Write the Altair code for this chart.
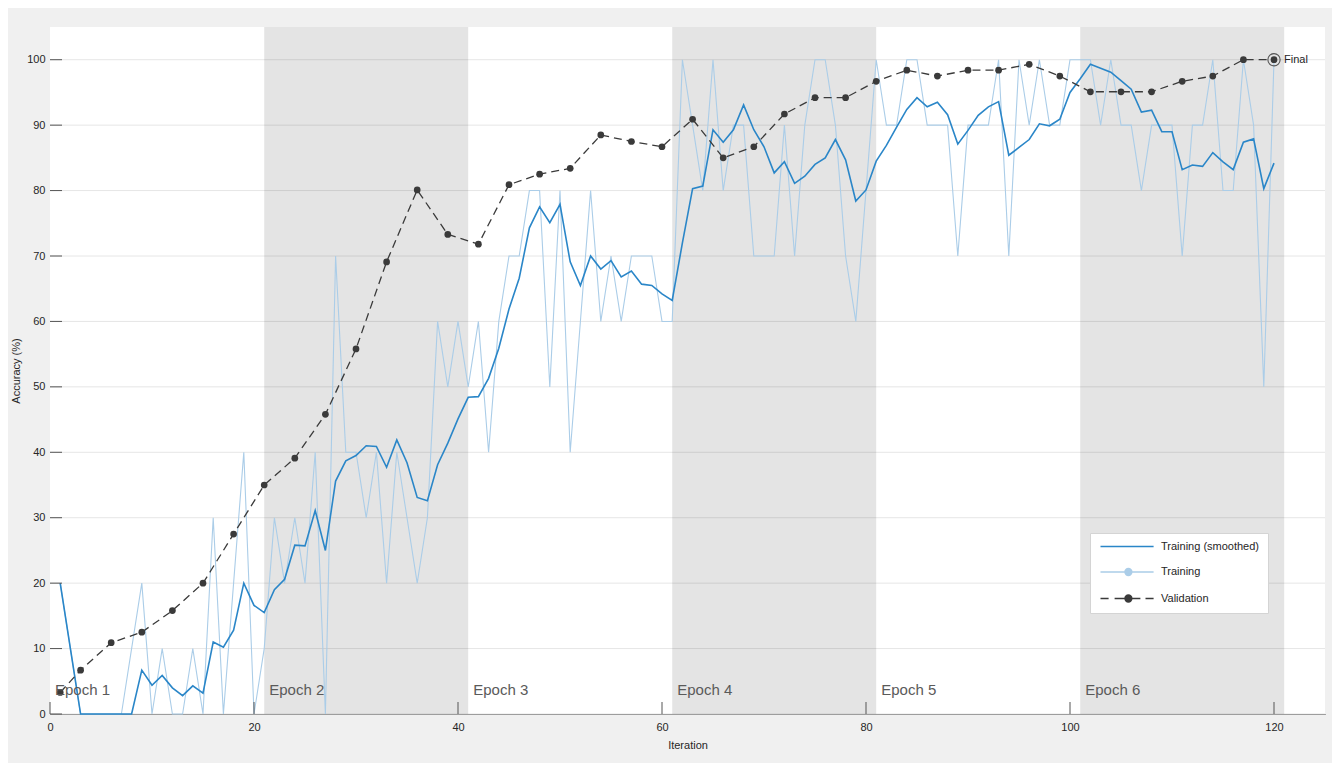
import altair as alt
import pandas as pd

# ---------------- data ----------------
ITERATIONS = list(range(1, 121))
TRAIN_RAW = [
    20, 10, 0, 0, 0, 0, 0, 10, 20, 0,
    10, 0, 0, 10, 0, 30, 0, 20, 40, 0,
    10, 30, 20, 30, 20, 40, 0, 70, 40, 40,
    30, 40, 20, 40, 30, 20, 30, 60, 50, 60,
    50, 60, 40, 60, 70, 70, 80, 80, 50, 80,
    40, 60, 80, 60, 70, 60, 70, 70, 70, 60,
    60, 100, 90, 80, 100, 80, 90, 90, 70, 70,
    70, 90, 70, 90, 100, 100, 90, 70, 60, 80,
    100, 90, 90, 100, 100, 90, 90, 90, 70, 90,
    90, 90, 100, 70, 100, 90, 100, 90, 90, 100,
    100, 100, 90, 100, 90, 90, 80, 90, 90, 90,
    70, 90, 90, 100, 80, 80, 100, 90, 50, 100,
]
TRAIN_SMOOTH = [
    20.0, 10.0, 0.0, 0.0, 0.0, 0.0, 0.0, 0.0, 6.7, 4.4,
    5.9, 4.0, 2.8, 4.3, 3.2, 11.0, 10.2, 12.8, 20.0, 16.6,
    15.5, 19.0, 20.6, 25.8, 25.7, 31.1, 25.0, 35.6, 38.7, 39.5,
    41.0, 40.9, 37.7, 41.9, 38.4, 33.1, 32.6, 38.1, 41.4, 45.1,
    48.4, 48.5, 51.3, 55.9, 61.9, 66.6, 74.3, 77.5, 75.1, 77.9,
    69.1, 65.5, 70.0, 68.0, 69.3, 66.8, 67.7, 65.7, 65.5, 64.2,
    63.2, 72.0, 80.3, 80.7, 89.3, 87.4, 89.3, 93.1, 89.3, 86.7,
    82.7, 84.4, 81.1, 82.2, 84.0, 85.0, 87.8, 84.7, 78.4, 80.1,
    84.5, 86.9, 89.7, 92.4, 94.2, 92.8, 93.5, 91.6, 87.1, 89.2,
    91.5, 92.8, 93.6, 85.4, 86.6, 87.8, 90.2, 89.9, 90.9, 95.0,
    97.1, 99.3, 98.7, 98.1, 96.8, 95.5, 92.0, 92.3, 89.0, 89.0,
    83.2, 83.9, 83.7, 85.8, 84.4, 83.2, 87.4, 87.9, 80.3, 84.2,
]
VAL_ITER = [1, 3, 6, 9, 12, 15, 18, 21, 24, 27, 30, 33, 36, 39, 42, 45, 48,
            51, 54, 57, 60, 63, 66, 69, 72, 75, 78, 81, 84, 87, 90, 93, 96,
            99, 102, 105, 108, 111, 114, 117, 120]
VAL_ACC = [3.3, 6.7, 10.9, 12.5, 15.8, 20.0, 27.5, 35.0, 39.1, 45.8, 55.8,
           69.1, 80.1, 73.3, 71.8, 80.9, 82.5, 83.4, 88.5, 87.5, 86.7, 90.9,
           85.0, 86.7, 91.7, 94.2, 94.2, 96.7, 98.4, 97.5, 98.4, 98.4, 99.3,
           97.5, 95.1, 95.1, 95.1, 96.7, 97.5, 100.0, 100.0]
EPOCH_LABELS = ["Epoch 1", "Epoch 2", "Epoch 3", "Epoch 4", "Epoch 5", "Epoch 6"]
EPOCH_START = [0, 21, 41, 61, 81, 101]
EPOCH_END = [21, 41, 61, 81, 101, 121]
EPOCH_SHADED = [False, True, False, True, False, True]
X_TICKS = [0, 20, 40, 60, 80, 100, 120]
Y_TICKS = [0, 10, 20, 30, 40, 50, 60, 70, 80, 90, 100]
LEGEND_LABELS = ["Training (smoothed)", "Training", "Validation"]
FINAL_LABEL = "Final"
X_TITLE = "Iteration"
Y_TITLE = "Accuracy (%)"

# ---------------- styling ----------------
FONT = "Liberation Sans"
C_SMOOTH = "#2a86c8"
C_RAW = "#abcde8"
C_VAL = "#3a3a3a"
TXT = "#262626"
W, H = 1275, 687

train = pd.DataFrame({"iteration": ITERATIONS, "raw": TRAIN_RAW, "smooth": TRAIN_SMOOTH})
val = pd.DataFrame({"iteration": VAL_ITER, "acc": VAL_ACC})
final = val.tail(1).assign(label=FINAL_LABEL)
epochs = pd.DataFrame({"label": EPOCH_LABELS, "start": EPOCH_START,
                       "end": EPOCH_END, "shaded": EPOCH_SHADED})
xt = pd.DataFrame({"t": X_TICKS})
yt = pd.DataFrame({"t": Y_TICKS})

xs = alt.Scale(domain=[0, 125], nice=False, zero=False)
ys = alt.Scale(domain=[0, 105], nice=False, zero=False)

x_axis = alt.Axis(values=X_TICKS, tickSize=0, labelPadding=7, labelFlush=False,
                  grid=False, domainColor="#555555", labelColor=TXT,
                  labelFontSize=11, titleFontSize=11, titleFontWeight="normal",
                  titleColor=TXT, titlePadding=7, labelFont=FONT, titleFont=FONT)
y_axis = alt.Axis(values=Y_TICKS, tickSize=0, labelPadding=5, grid=False,
                  domainColor="#555555", labelColor=TXT,
                  labelFontSize=11, titleFontSize=11, titleFontWeight="normal",
                  titleColor=TXT, titlePadding=5, labelFont=FONT, titleFont=FONT)


def X(field):
    return alt.X(field, scale=xs, axis=x_axis, title=X_TITLE)


def Y(field):
    return alt.Y(field, scale=ys, axis=y_axis, title=Y_TITLE)


# white plot background (drawn as first layer)
plot_bg = alt.Chart(xt).transform_filter("datum.t == 0").mark_rect(
    color="white", opacity=1
).encode(x=alt.value(0), x2=alt.value(W), y=alt.value(0), y2=alt.value(H))

grid = alt.Chart(yt).mark_rule(color="#e6e6e6", strokeWidth=1).encode(
    y=Y("t:Q"), x=alt.value(0), x2=alt.value(W))

bands = alt.Chart(epochs).transform_filter("datum.shaded").mark_rect(
    color="#000000", opacity=0.105
).encode(x=X("start:Q"), x2="end:Q")

raw_line = alt.Chart(train).mark_line(color=C_RAW, strokeWidth=1.1).encode(
    x=X("iteration:Q"), y=Y("raw:Q"))

smooth_line = alt.Chart(train).mark_line(color=C_SMOOTH, strokeWidth=1.6).encode(
    x=X("iteration:Q"), y=Y("smooth:Q"))

val_line = alt.Chart(val).mark_line(color=C_VAL, strokeWidth=1.3,
                                    strokeDash=[8, 5]).encode(
    x=X("iteration:Q"), y=Y("acc:Q"))
val_pts = alt.Chart(val).mark_point(filled=True, color=C_VAL, size=45,
                                    opacity=1).encode(
    x=X("iteration:Q"), y=Y("acc:Q"))
final_ring = alt.Chart(final).mark_point(shape="circle", filled=False,
                                         color="#555555", size=150,
                                         strokeWidth=1.1, opacity=1).encode(
    x=X("iteration:Q"), y=Y("acc:Q"))
final_text = alt.Chart(final).mark_text(align="left", baseline="middle", dx=10,
                                        font=FONT, fontSize=11, color=TXT).encode(
    x=X("iteration:Q"), y=Y("acc:Q"), text="label:N")

epoch_text = alt.Chart(epochs).mark_text(align="left", baseline="middle", dx=5,
                                         font=FONT, fontSize=15,
                                         color="#5a5a5a").encode(
    x=X("start:Q"), y=alt.value(H - 24), text="label:N")

x_ticks = alt.Chart(xt).mark_rule(color="#555555", strokeWidth=1).encode(
    x=X("t:Q"), y=alt.value(H), y2=alt.value(H - 12))
y_ticks = alt.Chart(yt).mark_rule(color="#555555", strokeWidth=1).encode(
    y=Y("t:Q"), x=alt.value(0), x2=alt.value(12))


# legend symbols: custom SVG paths (line + dot), units of 3 px
def ring(cx, r):
    return f"M{cx + r},0A{r},{r} 0 1,1 {cx - r},0A{r},{r} 0 1,1 {cx + r},0"


dot = ring(8.3, 1.15) + ring(8.3, 0.75) + ring(8.3, 0.35) + ring(8.3, 0.08)
PATHS = [
    "M-1,0H16.7",
    "M-1,0H16.7" + dot,
    "M-1,0H1.7M3.7,0H12.3M14,0H16.7" + dot,
]
leg = alt.Legend(title=None, orient="none", legendX=1040, legendY=506,
                 direction="vertical", fillColor="white", strokeColor="#d4d4d4",
                 padding=8, rowPadding=13.5, symbolSize=36, symbolStrokeWidth=1.4,
                 labelOffset=52, labelFontSize=11, labelColor=TXT, labelFont=FONT)
legend_layer = alt.Chart(pd.DataFrame({"series": LEGEND_LABELS})).transform_filter(
    "false"
).mark_point(filled=False, strokeWidth=1.4, opacity=1).encode(
    color=alt.Color("series:N", scale=alt.Scale(domain=LEGEND_LABELS,
                                                range=[C_SMOOTH, C_RAW, C_VAL]),
                    legend=leg),
    shape=alt.Shape("series:N", scale=alt.Scale(domain=LEGEND_LABELS, range=PATHS),
                    legend=leg),
)

chart = alt.layer(
    plot_bg, grid, bands, raw_line, smooth_line, val_line, val_pts, final_ring,
    final_text, epoch_text, x_ticks, y_ticks, legend_layer,
).properties(
    width=W, height=H,
    autosize=alt.AutoSizeParams(type="none"),
    padding={"left": 42, "top": 19, "right": 7, "bottom": 49},
    background="#f0f0f0",
).configure(
    font=FONT,
    view=alt.ViewConfig(fill="white", stroke="transparent"),
)

chart.save("out.html", embed_options={"renderer": "svg", "actions": False})
